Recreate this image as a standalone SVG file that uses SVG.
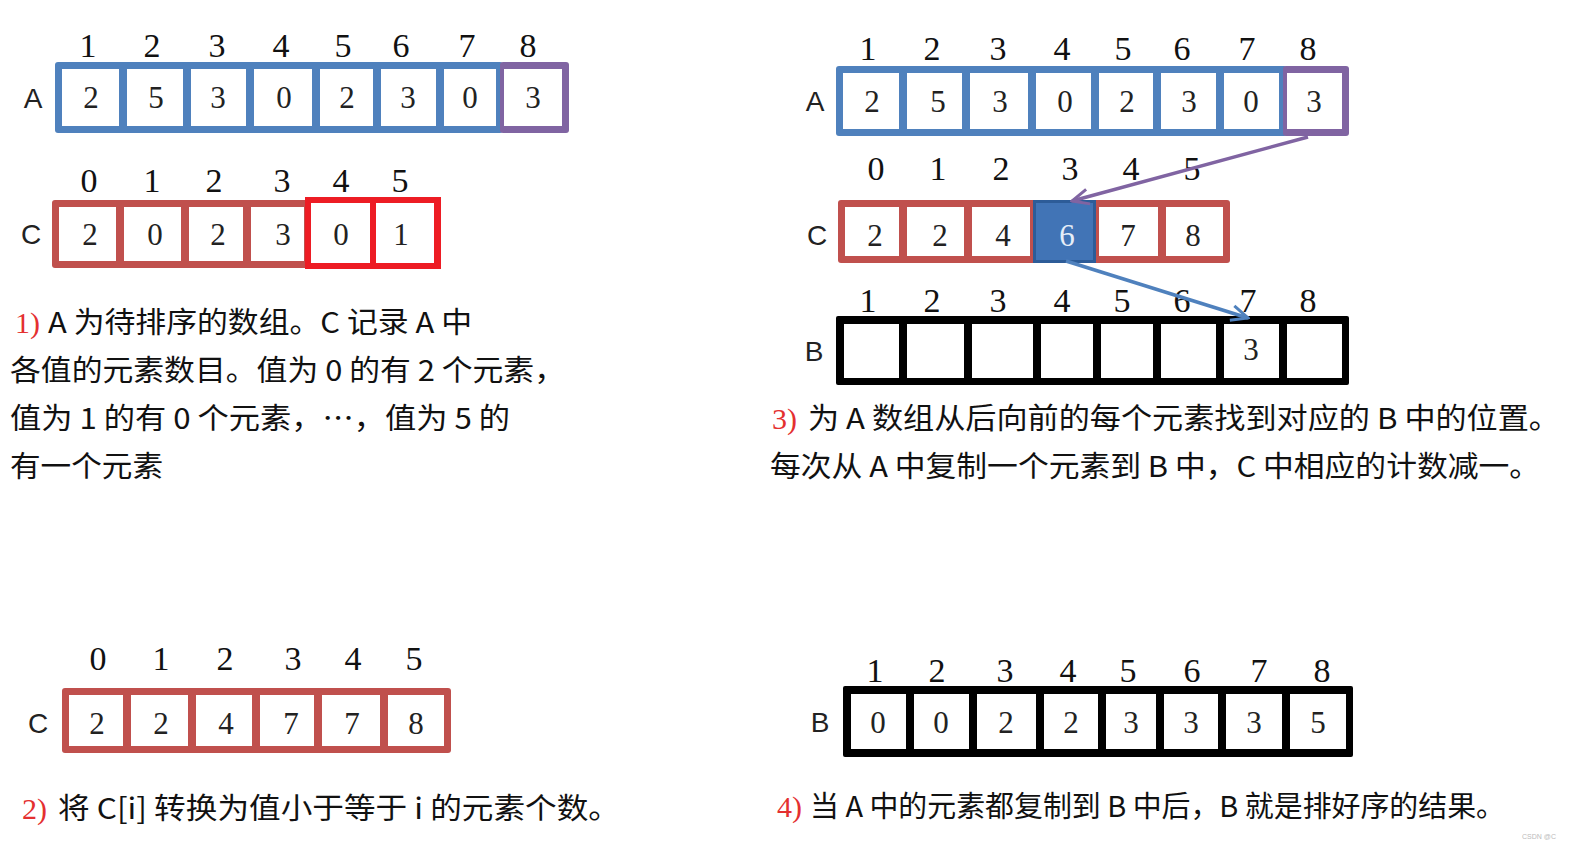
<svg xmlns="http://www.w3.org/2000/svg" width="1570" height="850" viewBox="0 0 1570 850">
<style>
.idx{font-family:"Liberation Serif",serif;font-size:34px;text-anchor:middle;fill:#111}
.val{font-family:"Liberation Serif",serif;font-size:31px;text-anchor:middle;fill:#222}
.lbl{font-family:"Liberation Sans",sans-serif;font-size:28px;text-anchor:middle;fill:#222}
.cn{font-family:"Noto Sans CJK SC","Liberation Sans",sans-serif;font-size:29px;fill:#111}
.num{font-family:"Liberation Serif",serif;font-size:30px;fill:#E43030}
.w{fill:#fff}
.blue{fill:#4F81BD}
.purple{fill:#8064A2}
.brick{fill:#C0504D}
.black{fill:#000}
.conn{fill:none;stroke-width:3.5}
</style>
<defs>
<marker id="headP" viewBox="0 0 12 12" refX="11" refY="6" markerWidth="20" markerHeight="20" markerUnits="userSpaceOnUse" orient="auto">
<path d="M1,1.5 L11,6 L1,10.5" fill="none" stroke="#8064A2" stroke-width="1.8"/>
</marker>
<marker id="headB" viewBox="0 0 12 12" refX="11" refY="6" markerWidth="20" markerHeight="20" markerUnits="userSpaceOnUse" orient="auto">
<path d="M1,1.5 L11,6 L1,10.5" fill="none" stroke="#4F81BD" stroke-width="1.8"/>
</marker>
</defs>
<rect width="1570" height="850" fill="#fff"/>

<!-- Panel 1: array A -->
<g id="p1-array-A">
<text class="lbl" x="33" y="108">A</text>
<rect class="blue" x="55" y="62" width="448" height="71" rx="3"/>
<rect class="purple" x="500" y="62" width="69" height="71" rx="3"/>
<rect class="w" x="62" y="69" width="57" height="57"/>
<rect class="w" x="127" y="69" width="56" height="57"/>
<rect class="w" x="191" y="69" width="55" height="57"/>
<rect class="w" x="254" y="69" width="58" height="57"/>
<rect class="w" x="320" y="69" width="53" height="57"/>
<rect class="w" x="381" y="69" width="55" height="57"/>
<rect class="w" x="444" y="69" width="52" height="57"/>
<rect class="w" x="504" y="69" width="58" height="57"/>
<text class="idx" x="88" y="57">1</text><text class="idx" x="152" y="57">2</text><text class="idx" x="217" y="57">3</text><text class="idx" x="281" y="57">4</text><text class="idx" x="343" y="57">5</text><text class="idx" x="401" y="57">6</text><text class="idx" x="467" y="57">7</text><text class="idx" x="528" y="57">8</text>
<text class="val" x="91" y="108">2</text><text class="val" x="156" y="108">5</text><text class="val" x="218" y="108">3</text><text class="val" x="284" y="108">0</text><text class="val" x="347" y="108">2</text><text class="val" x="408" y="108">3</text><text class="val" x="470" y="108">0</text><text class="val" x="533" y="108">3</text>
</g>

<!-- Panel 1: array C -->
<g id="p1-array-C">
<text class="lbl" x="31" y="244">C</text>
<rect class="brick" x="52" y="200" width="258" height="68" rx="3"/>
<rect class="w" x="59" y="207" width="57" height="54"/>
<rect class="w" x="124" y="207" width="57" height="54"/>
<rect class="w" x="189" y="207" width="54" height="54"/>
<rect class="w" x="251" y="207" width="53" height="54"/>
<rect x="305" y="197" width="136" height="72" fill="#ED1C24"/>
<rect class="w" x="311" y="203" width="59" height="60"/>
<rect class="w" x="376" y="203" width="58" height="60"/>
<text class="idx" x="89" y="192">0</text><text class="idx" x="152" y="192">1</text><text class="idx" x="214" y="192">2</text><text class="idx" x="282" y="192">3</text><text class="idx" x="341" y="192">4</text><text class="idx" x="400" y="192">5</text>
<text class="val" x="90" y="245">2</text><text class="val" x="155" y="245">0</text><text class="val" x="218" y="245">2</text><text class="val" x="283" y="245">3</text><text class="val" x="341" y="245">0</text><text class="val" x="401" y="245">1</text>
</g>

<g id="p1-text">
<text class="num" x="15" y="333">1)</text>
<text class="cn" x="48" y="333" textLength="424" lengthAdjust="spacingAndGlyphs">A 为待排序的数组。C 记录 A 中</text>
<text class="cn" x="10" y="381" textLength="555" lengthAdjust="spacingAndGlyphs">各值的元素数目。值为 0 的有 2 个元素，</text>
<text class="cn" x="10" y="429" textLength="500" lengthAdjust="spacingAndGlyphs">值为 1 的有 0 个元素，…，值为 5 的</text>
<text class="cn" x="10" y="477" textLength="153" lengthAdjust="spacingAndGlyphs">有一个元素</text>
</g>

<!-- Panel 3: array A -->
<g id="p3-array-A">
<text class="lbl" x="815" y="111">A</text>
<rect class="blue" x="836" y="66" width="451" height="70" rx="3"/>
<rect class="purple" x="1283" y="66" width="66" height="70" rx="3"/>
<rect class="w" x="843" y="73" width="56" height="56"/>
<rect class="w" x="907" y="73" width="55" height="56"/>
<rect class="w" x="970" y="73" width="58" height="56"/>
<rect class="w" x="1036" y="73" width="55" height="56"/>
<rect class="w" x="1099" y="73" width="54" height="56"/>
<rect class="w" x="1161" y="73" width="55" height="56"/>
<rect class="w" x="1224" y="73" width="55" height="56"/>
<rect class="w" x="1287" y="73" width="55" height="56"/>
<text class="idx" x="868" y="60">1</text><text class="idx" x="932" y="60">2</text><text class="idx" x="998" y="60">3</text><text class="idx" x="1062" y="60">4</text><text class="idx" x="1123" y="60">5</text><text class="idx" x="1182" y="60">6</text><text class="idx" x="1247" y="60">7</text><text class="idx" x="1308" y="60">8</text>
<text class="val" x="872" y="112">2</text><text class="val" x="938" y="112">5</text><text class="val" x="1000" y="112">3</text><text class="val" x="1065" y="112">0</text><text class="val" x="1127" y="112">2</text><text class="val" x="1189" y="112">3</text><text class="val" x="1251" y="112">0</text><text class="val" x="1314" y="112">3</text>
</g>

<!-- Panel 3: array C -->
<g id="p3-array-C">
<text class="lbl" x="817" y="245">C</text>
<rect class="brick" x="838" y="200" width="392" height="63" rx="3"/>
<rect class="w" x="845" y="207" width="54" height="49"/>
<rect class="w" x="907" y="207" width="57" height="49"/>
<rect class="w" x="972" y="207" width="58" height="49"/>
<rect x="1034.5" y="201.5" width="60" height="60" fill="#4174B6" stroke="#2D5C98" stroke-width="3"/>
<rect class="w" x="1099" y="207" width="59" height="49"/>
<rect class="w" x="1166" y="207" width="57" height="49"/>
<text class="idx" x="876" y="180">0</text><text class="idx" x="938" y="180">1</text><text class="idx" x="1001" y="180">2</text><text class="idx" x="1070" y="180">3</text><text class="idx" x="1131" y="180">4</text><text class="idx" x="1192" y="180">5</text>
<text class="val" x="875" y="246">2</text><text class="val" x="940" y="246">2</text><text class="val" x="1003" y="246">4</text><text class="val" x="1067" y="246" style="fill:#E6EEF8">6</text><text class="val" x="1128" y="246">7</text><text class="val" x="1193" y="246">8</text>
</g>

<!-- Panel 3: array B -->
<g id="p3-array-B">
<text class="lbl" x="814" y="361">B</text>
<rect class="black" x="836" y="316" width="513" height="69" rx="2"/>
<rect class="w" x="844" y="324" width="55" height="54"/>
<rect class="w" x="907" y="324" width="57" height="54"/>
<rect class="w" x="972" y="324" width="61" height="54"/>
<rect class="w" x="1041" y="324" width="52" height="54"/>
<rect class="w" x="1101" y="324" width="52" height="54"/>
<rect class="w" x="1161" y="324" width="55" height="54"/>
<rect class="w" x="1224" y="324" width="55" height="54"/>
<rect class="w" x="1287" y="324" width="55" height="54"/>
<text class="idx" x="868" y="312">1</text><text class="idx" x="932" y="312">2</text><text class="idx" x="998" y="312">3</text><text class="idx" x="1062" y="312">4</text><text class="idx" x="1122" y="312">5</text><text class="idx" x="1182" y="312">6</text><text class="idx" x="1248" y="312">7</text><text class="idx" x="1308" y="312">8</text>
<text class="val" x="1251" y="360">3</text>
</g>

<g id="connectors">
<line class="conn" x1="1308" y1="137" x2="1072" y2="201" stroke="#8064A2" marker-end="url(#headP)"/>
<line class="conn" x1="1066" y1="261" x2="1248" y2="318" stroke="#4F81BD" marker-end="url(#headB)"/>
</g>

<g id="p3-text">
<text class="num" x="772" y="429">3)</text>
<text class="cn" x="808" y="429" textLength="752" lengthAdjust="spacingAndGlyphs">为 A 数组从后向前的每个元素找到对应的 B 中的位置。</text>
<text class="cn" x="770" y="477" textLength="770" lengthAdjust="spacingAndGlyphs">每次从 A 中复制一个元素到 B 中，C 中相应的计数减一。</text>
</g>

<!-- Panel 2: array C -->
<g id="p2-array-C">
<text class="lbl" x="38" y="733">C</text>
<rect class="brick" x="62" y="688" width="389" height="65" rx="3"/>
<rect class="w" x="69" y="695" width="54" height="51"/>
<rect class="w" x="131" y="695" width="57" height="51"/>
<rect class="w" x="196" y="695" width="56" height="51"/>
<rect class="w" x="260" y="695" width="54" height="51"/>
<rect class="w" x="322" y="695" width="58" height="51"/>
<rect class="w" x="388" y="695" width="56" height="51"/>
<text class="idx" x="98" y="670">0</text><text class="idx" x="161" y="670">1</text><text class="idx" x="225" y="670">2</text><text class="idx" x="293" y="670">3</text><text class="idx" x="353" y="670">4</text><text class="idx" x="414" y="670">5</text>
<text class="val" x="97" y="734">2</text><text class="val" x="161" y="734">2</text><text class="val" x="226" y="734">4</text><text class="val" x="291" y="734">7</text><text class="val" x="352" y="734">7</text><text class="val" x="416" y="734">8</text>
</g>

<g id="p2-text">
<text class="num" x="22" y="819">2)</text>
<text class="cn" x="58" y="819" textLength="562" lengthAdjust="spacingAndGlyphs">将 C[i] 转换为值小于等于 i 的元素个数。</text>
</g>

<!-- Panel 4: array B -->
<g id="p4-array-B">
<text class="lbl" x="820" y="732">B</text>
<rect class="black" x="843" y="686" width="510" height="71" rx="2"/>
<rect class="w" x="851" y="694" width="55" height="55"/>
<rect class="w" x="914" y="694" width="55" height="55"/>
<rect class="w" x="977" y="694" width="59" height="55"/>
<rect class="w" x="1044" y="694" width="54" height="55"/>
<rect class="w" x="1106" y="694" width="50" height="55"/>
<rect class="w" x="1164" y="694" width="54" height="55"/>
<rect class="w" x="1226" y="694" width="56" height="55"/>
<rect class="w" x="1290" y="694" width="56" height="55"/>
<text class="idx" x="875" y="682">1</text><text class="idx" x="937" y="682">2</text><text class="idx" x="1005" y="682">3</text><text class="idx" x="1068" y="682">4</text><text class="idx" x="1128" y="682">5</text><text class="idx" x="1192" y="682">6</text><text class="idx" x="1259" y="682">7</text><text class="idx" x="1322" y="682">8</text>
<text class="val" x="878" y="733">0</text><text class="val" x="941" y="733">0</text><text class="val" x="1006" y="733">2</text><text class="val" x="1071" y="733">2</text><text class="val" x="1131" y="733">3</text><text class="val" x="1191" y="733">3</text><text class="val" x="1254" y="733">3</text><text class="val" x="1318" y="733">5</text>
</g>

<g id="p4-text">
<text class="num" x="777" y="817">4)</text>
<text class="cn" x="810" y="817" textLength="695" lengthAdjust="spacingAndGlyphs">当 A 中的元素都复制到 B 中后，B 就是排好序的结果。</text>
</g>

<text x="1522" y="839" font-family="Liberation Sans, sans-serif" font-size="7" fill="#bbb">CSDN @C</text>
</svg>
